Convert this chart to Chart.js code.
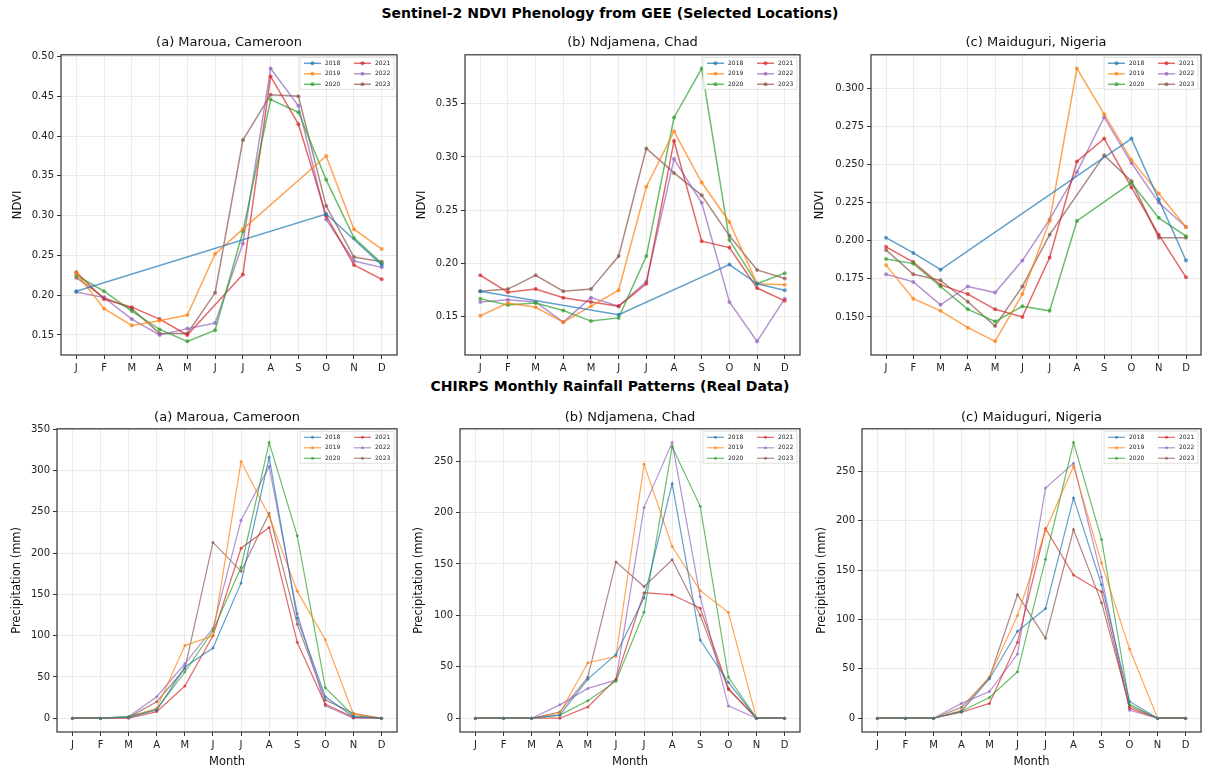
<!DOCTYPE html>
<html><head><meta charset="utf-8">
<script src="https://cdn.jsdelivr.net/npm/chart.js@4.4.0/dist/chart.umd.min.js"></script>
<style>
body{margin:0;width:1205px;height:771px;background:#fff;position:relative;overflow:hidden;font-family:"DejaVu Sans",sans-serif;}
canvas{position:absolute;}
.sup{position:absolute;left:0;width:1220px;text-align:center;font-weight:bold;font-size:14px;line-height:16px;color:#000;}
</style></head><body>
<div class="sup" style="top:5px">Sentinel-2 NDVI Phenology from GEE (Selected Locations)</div>
<div class="sup" style="top:378px">CHIRPS Monthly Rainfall Patterns (Real Data)</div>
<script>
const N = null;
const months = ['J','F','M','A','M','J','J','A','S','O','N','D'];
const years = ['2018','2019','2020','2021','2022','2023'];

// NDVI (rows = years 2018..2023, columns = months)
const ndviMaroua = [
  [0.205,N,N,N,N,N,N,N,N,0.302,N,0.238],
  [0.228,0.183,0.162,0.168,0.175,0.252,0.283,N,N,0.375,0.283,0.258],
  [0.225,0.205,0.180,0.157,0.142,0.156,0.280,0.446,0.430,0.345,0.272,0.240],
  [0.229,0.195,0.185,0.170,0.150,N,0.226,0.475,0.415,0.300,0.238,0.220],
  [0.204,0.197,0.170,0.150,0.158,0.165,0.265,0.485,0.438,0.295,0.243,0.235],
  [0.222,0.197,0.183,0.152,0.152,0.203,0.395,0.452,0.450,0.312,0.248,0.242]
];
const ndviNdjamena = [
  [0.174,N,N,N,N,0.152,N,N,N,0.199,0.181,0.175],
  [0.151,0.163,0.159,0.145,0.160,0.175,0.272,0.324,0.276,0.239,0.181,0.180],
  [0.167,0.161,0.163,0.156,0.146,0.149,0.207,0.337,0.383,0.222,0.181,0.191],
  [0.189,0.173,0.176,0.168,0.164,0.160,0.181,0.315,0.221,0.215,0.177,0.165],
  [0.164,0.166,0.164,0.145,0.168,0.160,0.183,0.298,0.257,0.164,0.127,0.167],
  [0.174,0.176,0.189,0.174,0.176,0.207,0.308,0.285,0.264,0.226,0.194,0.186]
];
const ndviMaiduguri = [
  [0.202,0.192,0.181,N,N,N,N,N,N,0.267,0.227,0.187],
  [0.184,0.162,0.154,0.143,0.134,0.165,0.213,0.313,0.283,0.253,0.231,0.209],
  [0.188,0.185,0.170,0.155,0.147,0.157,0.154,0.213,N,0.238,0.215,0.203],
  [0.196,0.186,0.171,0.165,0.155,0.150,0.189,0.252,0.267,0.235,0.204,0.176],
  [0.178,0.173,0.158,0.170,0.166,0.187,0.214,0.245,0.281,0.251,0.225,0.209],
  [0.194,0.178,0.174,0.160,0.144,0.170,0.204,N,0.256,0.239,0.202,0.202]
];

// CHIRPS rainfall (mm)
const rainMaroua = [
  [0,0,1,10,62,85,164,316,121,26,2,0],
  [0,0,1,12,88,100,311,245,154,95,5,0],
  [0,0,2,11,56,106,183,334,221,37,3,0],
  [0,0,0,8,39,100,206,231,92,17,1,0],
  [0,0,2,26,66,109,240,305,127,15,0,0],
  [0,0,1,20,60,213,178,248,114,22,6,0]
];
const rainNdjamena = [
  [0,0,0,3,38,62,117,228,76,35,0,0],
  [0,0,0,5,54,60,247,167,124,103,0,0],
  [0,0,0,3,17,36,103,264,206,40,0,0],
  [0,0,0,0,11,38,122,120,107,29,0,0],
  [0,0,0,13,29,37,205,268,118,12,0,0],
  [0,0,0,6,40,152,128,154,100,28,0,0]
];
const rainMaiduguri = [
  [0,0,0,7,40,88,111,223,135,17,0,0],
  [0,0,0,8,42,104,190,255,157,70,0,0],
  [0,0,0,7,21,47,161,279,181,14,0,0],
  [0,0,0,6,15,77,192,145,128,10,0,0],
  [0,0,0,15,27,65,233,258,143,8,0,0],
  [0,0,0,11,41,125,81,191,117,12,0,0]
];

const colors = ['rgba(31,119,180,0.7)','rgba(255,127,14,0.7)','rgba(44,160,44,0.7)',
                'rgba(214,39,40,0.7)','rgba(148,103,189,0.7)','rgba(140,86,75,0.7)'];
const FONT = '"DejaVu Sans", sans-serif';

const framePlugin = {
  id:'frame',
  afterDatasetsDraw(chart){
    const {ctx, chartArea:a} = chart;
    ctx.save();
    ctx.strokeStyle = '#333'; ctx.lineWidth = 1.2;
    ctx.strokeRect(a.left, a.top, a.right - a.left, a.bottom - a.top);
    ctx.restore();
  }
};
const legendPlugin = {
  id:'mplLegend',
  afterDatasetsDraw(chart){
    const {ctx, chartArea:a} = chart;
    const R = a.right, T = a.top;
    ctx.save();
    ctx.fillStyle = 'rgba(255,255,255,0.8)';
    ctx.strokeStyle = 'rgba(204,204,204,0.8)';
    ctx.lineWidth = 0.8;
    ctx.beginPath();
    ctx.rect(R - 97, T + 2.5, 94, 32);
    ctx.fill(); ctx.stroke();
    chart.data.datasets.forEach((ds, i) => {
      const col = Math.floor(i / 3), row = i % 3;
      const x0 = R - 93 + col * 50;
      const y = T + 8.5 + row * 10.5;
      ctx.strokeStyle = ds.borderColor; ctx.lineWidth = ds.borderWidth;
      ctx.beginPath(); ctx.moveTo(x0, y); ctx.lineTo(x0 + 17, y); ctx.stroke();
      ctx.fillStyle = ds.borderColor;
      ctx.beginPath(); ctx.arc(x0 + 8.5, y, ds.pointRadius, 0, Math.PI * 2); ctx.fill();
      ctx.fillStyle = '#222'; ctx.font = '6px ' + FONT; ctx.textBaseline = 'middle'; ctx.textAlign = 'left';
      ctx.fillText(ds.label, x0 + 21, y);
    });
    ctx.restore();
  }
};

function panel(spec){
  const {series, title, areaLeft, areaRight, areaTop, areaBottom, canvasBottom,
         ylabelX, ylabel, step, dec, bottom} = spec;
  const cx = Math.round(ylabelX - 12);
  const cw = Math.round(areaRight + 6 - cx);
  const titleCenter = spec.titleCenter;
  const cy = titleCenter - 7.8;
  const tb = areaTop - (titleCenter + 7.8);
  const cv = document.createElement('canvas');
  cv.width = cw; cv.height = Math.round(canvasBottom - cy);
  cv.style.left = cx + 'px'; cv.style.top = cy + 'px';
  document.body.appendChild(cv);

  let lo = Infinity, hi = -Infinity;
  series.forEach(r => r.forEach(v => { if (v !== null) { lo = Math.min(lo, v); hi = Math.max(hi, v); } }));
  const m = (hi - lo) * 0.05;
  const ymin = lo - m, ymax = hi + m;

  const bw = bottom ? 1.2 : 1.5, pr = bottom ? 1.5 : 2;
  new Chart(cv, {
    type:'line',
    data:{datasets: series.map((arr, i) => ({
      label: years[i],
      data: arr.map((v, j) => ({x: j, y: v})),
      borderColor: colors[i], backgroundColor: colors[i],
      borderWidth: bw, pointRadius: pr, pointHoverRadius: pr, pointBorderWidth: 0,
      tension: 0, spanGaps: true, fill: false
    }))},
    options:{
      responsive:false, animation:false, devicePixelRatio:1,
      layout:{padding:{left:0, right: cx + cw - areaRight, top:0, bottom:0}},
      plugins:{
        legend:{display:false}, tooltip:{enabled:false},
        title:{display:true, text:title, fullSize:false, color:'#111',
               font:{family:FONT, size:13, weight:'normal'}, padding:{top:0, bottom:tb}}
      },
      scales:{
        x:{type:'linear', min:-0.55, max:11.55,
           afterBuildTicks: s => { s.ticks = months.map((_, i) => ({value:i})); },
           afterFit: s => { s.height = canvasBottom - areaBottom; },
           ticks:{callback: v => months[v], color:'#222', font:{family:FONT, size:10}, padding:3, maxRotation:0, autoSkip:false},
           grid:{color:'#e6e6e6', lineWidth:0.8, tickLength:4, tickColor:'#333', tickWidth:1},
           border:{display:false},
           title:{display: !!bottom, text:'Month', color:'#111', font:{family:FONT, size:11.5}, padding:{top:0, bottom:2.1}}
        },
        y:{type:'linear', min:ymin, max:ymax,
           afterBuildTicks: s => {
             const t = [];
             for (let k = Math.ceil(ymin / step - 1e-9); k * step <= ymax + 1e-9; k++) t.push({value: +(k * step).toFixed(6)});
             s.ticks = t;
           },
           afterFit: s => { s.width = areaLeft - cx; },
           ticks:{callback: v => Number(v).toFixed(dec), color:'#222', font:{family:FONT, size:10}, padding:3},
           grid:{color:'#e6e6e6', lineWidth:0.8, tickLength:4, tickColor:'#333', tickWidth:1},
           border:{display:false},
           title:{display:true, text:ylabel, color:'#111', font:{family:FONT, size:11.5}, padding:{top:12 - 6.9, bottom:0}}
        }
      }
    },
    plugins:[framePlugin, legendPlugin]
  });
}

const top1 = {areaTop:55, areaBottom:355, canvasBottom:376, titleCenter:43, ylabel:'NDVI', bottom:false};
const bot1 = {areaTop:429, areaBottom:732, canvasBottom:771, titleCenter:418, ylabel:'Precipitation (mm)', bottom:true, step:50, dec:0};

panel(Object.assign({}, top1, {series:ndviMaroua, title:'(a) Maroua, Cameroon', areaLeft:61, areaRight:397, ylabelX:18, step:0.05, dec:2}));
panel(Object.assign({}, top1, {series:ndviNdjamena, title:'(b) Ndjamena, Chad', areaLeft:465, areaRight:800, ylabelX:422, step:0.05, dec:2}));
panel(Object.assign({}, top1, {series:ndviMaiduguri, title:'(c) Maiduguri, Nigeria', areaLeft:871, areaRight:1201, ylabelX:820, step:0.025, dec:3}));
panel(Object.assign({}, bot1, {series:rainMaroua, title:'(a) Maroua, Cameroon', areaLeft:57, areaRight:397, ylabelX:17}));
panel(Object.assign({}, bot1, {series:rainNdjamena, title:'(b) Ndjamena, Chad', areaLeft:460, areaRight:800, ylabelX:419}));
panel(Object.assign({}, bot1, {series:rainMaiduguri, title:'(c) Maiduguri, Nigeria', areaLeft:862, areaRight:1201, ylabelX:822}));
</script>
</body></html>
